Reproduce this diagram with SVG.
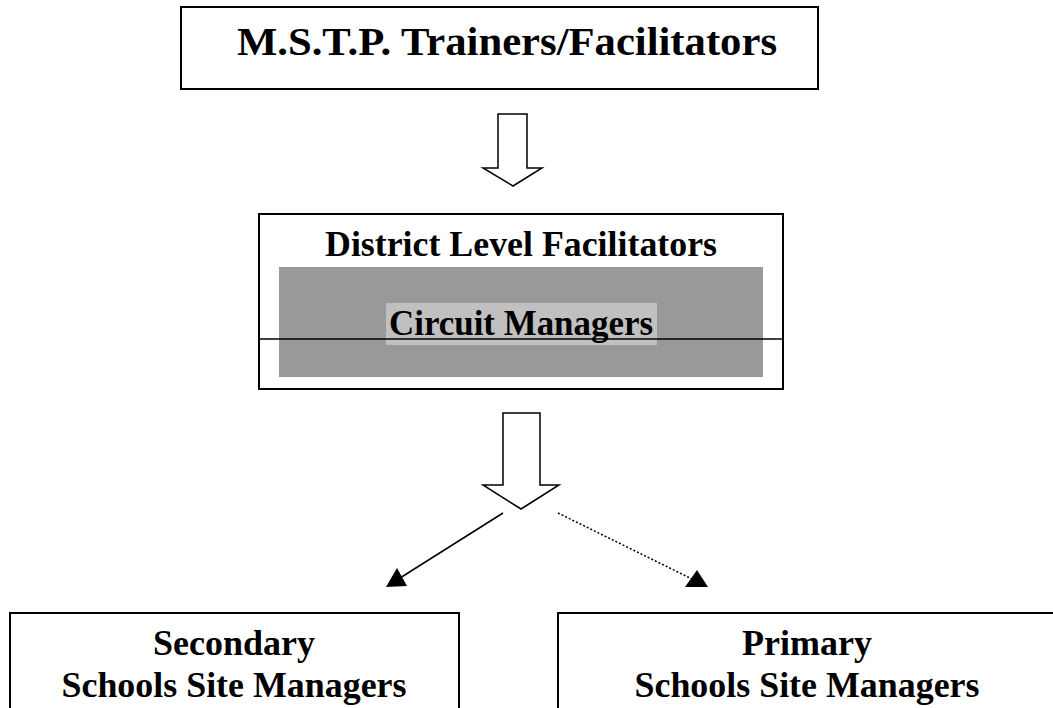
<svg xmlns="http://www.w3.org/2000/svg" width="1053" height="708" viewBox="0 0 1053 708">
<style>
.box{fill:#ffffff;stroke:#000000;stroke-width:2}
.blk{fill:#ffffff;stroke:#000000;stroke-width:1.5;stroke-linejoin:miter}
.t{font-family:"Liberation Serif","Times New Roman",serif;font-weight:bold;fill:#000000;text-anchor:middle}
.ln{stroke:#000000;stroke-width:1.5;fill:none}
.dot{stroke:#000000;stroke-width:1.5;stroke-dasharray:2 2;fill:none}
.head{fill:#000000;stroke:none}
</style>
<rect width="1053" height="708" fill="#ffffff"/>
<g id="node-mstp">
<rect class="box" x="181" y="7" width="637" height="82"/>
<text class="t" x="507" y="55" font-size="41" textLength="540" lengthAdjust="spacingAndGlyphs">M.S.T.P. Trainers/Facilitators</text>
</g>
<g id="node-district">
<rect class="box" x="259" y="214" width="524" height="175"/>
<text class="t" x="521" y="256" font-size="35" textLength="392" lengthAdjust="spacingAndGlyphs">District Level Facilitators</text>
<rect x="279" y="267" width="484" height="110" fill="#999999"/>
<rect x="386" y="303" width="271" height="42" fill="#c0c0c0"/>
<text class="t" x="521" y="335" font-size="35" textLength="264" lengthAdjust="spacingAndGlyphs">Circuit Managers</text>
<line x1="259" y1="339" x2="783" y2="339" stroke="#000000" stroke-width="1.5"/>
</g>
<g id="node-secondary">
<rect class="box" x="10" y="613" width="449" height="110"/>
<text class="t" x="234" y="655" font-size="36">Secondary</text>
<text class="t" x="234" y="697" font-size="36" textLength="345" lengthAdjust="spacingAndGlyphs">Schools Site Managers</text>
</g>
<g id="node-primary">
<rect class="box" x="558" y="613" width="510" height="110"/>
<text class="t" x="807" y="655" font-size="36">Primary</text>
<text class="t" x="807" y="697" font-size="36" textLength="345" lengthAdjust="spacingAndGlyphs">Schools Site Managers</text>
</g>
<g id="connectors">
<polygon class="blk" points="498,114 527,114 527,168 542,168 513,186 483,168 498,168"/>
<polygon class="blk" points="503,413 540,413 540,485 559,485 521,509 483,485 503,485"/>
<line class="ln" x1="503" y1="513" x2="400" y2="578"/>
<polygon class="head" points="386,587 397,568 407,586"/>
<line class="dot" x1="558" y1="513" x2="692" y2="579"/>
<polygon class="head" points="708,587 685,587 697,570"/>
</g>
</svg>
